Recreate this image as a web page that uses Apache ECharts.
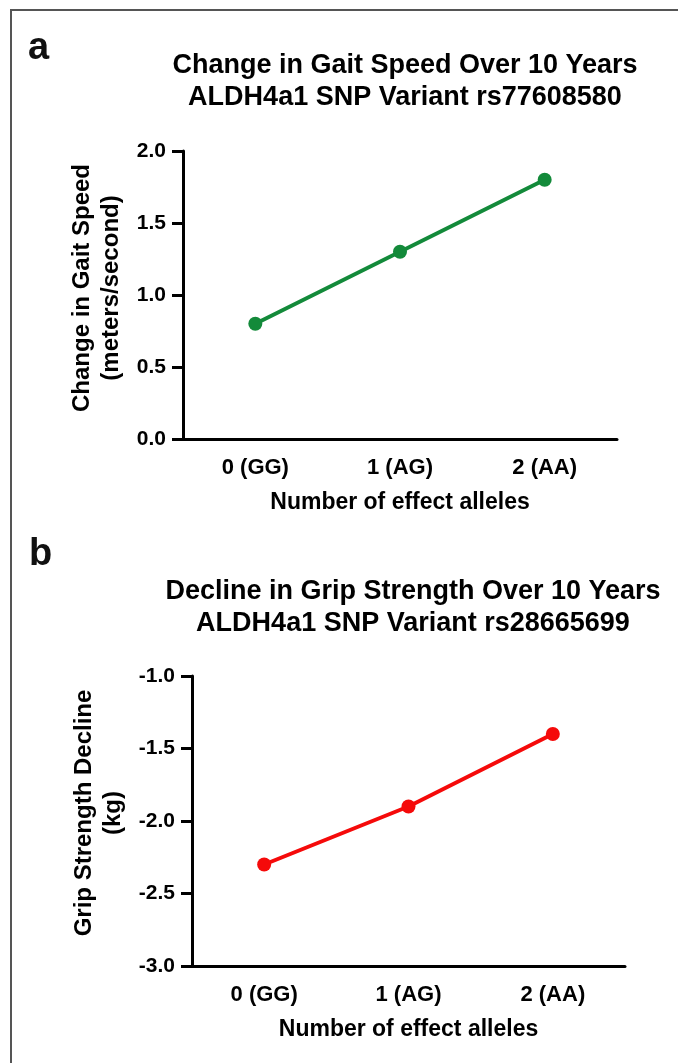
<!DOCTYPE html>
<html>
<head>
<meta charset="utf-8">
<script src="https://cdn.jsdelivr.net/npm/echarts@6/dist/echarts.min.js"></script>
<style>
  html, body { margin: 0; padding: 0; background: #fff; }
  #chart { position: absolute; left: 0; top: 0; width: 678px; height: 1063px; }
  #frame { position: absolute; left: 10px; top: 9px; width: 700px; height: 1100px;
           border-top: 2px solid #555; border-left: 2px solid #555; pointer-events: none; }
</style>
</head>
<body>
<div id="chart"></div>
<div id="frame"></div>
<script>
// ---- Data ----
const categories = ['0 (GG)', '1 (AG)', '2 (AA)'];
const gaitSpeedChange = [0.8, 1.3, 1.8];
const gripStrengthDecline = [-2.3, -1.9, -1.4];
const gaitTicks = [0.0, 0.5, 1.0, 1.5, 2.0];
const gripTicks = [-3.0, -2.5, -2.0, -1.5, -1.0];

const titleA = 'Change in Gait Speed Over 10 Years\nALDH4a1 SNP Variant rs77608580';
const titleB = 'Decline in Grip Strength Over 10 Years\nALDH4a1 SNP Variant rs28665699';
const yNameA = 'Change in Gait Speed\n(meters/second)';
const yNameB = 'Grip Strength Decline\n(kg)';
const xName = 'Number of effect alleles';

const FONT = '"Liberation Sans", Arial, sans-serif';
const GREEN = '#138a3a';
const RED = '#f50a0a';

const chart = echarts.init(document.getElementById('chart'), null, { renderer: 'canvas' });

function xAxis(gridIndex) {
  return {
    type: 'category', gridIndex, data: categories, boundaryGap: true,
    axisLine: { lineStyle: { color: '#000', width: 3 } },
    axisTick: { alignWithLabel: true, length: 10, lineStyle: { color: '#000', width: 3 } },
    axisLabel: { color: '#000', fontFamily: FONT, fontWeight: 'bold', fontSize: 22, margin: 18 },
    name: xName, nameLocation: 'middle', nameGap: 52,
    nameTextStyle: { color: '#000', fontFamily: FONT, fontWeight: 'bold', fontSize: 23 },
    splitLine: { show: false }
  };
}
function yAxis(gridIndex, ticks, name, gap, shift) {
  return {
    type: 'value', gridIndex,
    min: ticks[0], max: ticks[ticks.length - 1], interval: ticks[1] - ticks[0],
    axisLine: { show: true, lineStyle: { color: '#000', width: 3 } },
    axisTick: { show: true, length: 11, lineStyle: { color: '#000', width: 3 } },
    axisLabel: { color: '#000', fontFamily: FONT, fontWeight: 'bold', fontSize: 21, margin: 17,
                 formatter: v => v.toFixed(1) },
    splitLine: { show: false },
    name, nameLocation: 'middle', nameGap: gap, nameRotate: 90,
    nameTextStyle: { color: '#000', fontFamily: FONT, fontWeight: 'bold', fontSize: 24, lineHeight: 29,
                     padding: [0, 0, 0, shift] }
  };
}

chart.setOption({
  animation: false,
  backgroundColor: '#fff',
  title: [
    { text: 'a', left: 23, top: 25, textStyle: { fontFamily: FONT, fontWeight: 'bold', fontSize: 38, color: '#111' } },
    { text: 'b', left: 24, top: 531, textStyle: { fontFamily: FONT, fontWeight: 'bold', fontSize: 38, color: '#111' } },
    { text: titleA, left: 400, top: 45, textAlign: 'center',
      textStyle: { fontFamily: FONT, fontWeight: 'bold', fontSize: 27, lineHeight: 32, color: '#000' } },
    { text: titleB, left: 408, top: 571, textAlign: 'center',
      textStyle: { fontFamily: FONT, fontWeight: 'bold', fontSize: 27, lineHeight: 32, color: '#000' } }
  ],
  grid: [
    { left: 183, top: 151, width: 434, height: 288 },
    { left: 192, top: 676, width: 433, height: 290 }
  ],
  xAxis: [xAxis(0), xAxis(1)],
  yAxis: [yAxis(0, gaitTicks, yNameA, 55, 14), yAxis(1, gripTicks, yNameB, 64, 16)],
  series: [
    { type: 'line', xAxisIndex: 0, yAxisIndex: 0, data: gaitSpeedChange,
      symbol: 'circle', symbolSize: 14, lineStyle: { color: GREEN, width: 4 },
      itemStyle: { color: GREEN } },
    { type: 'line', xAxisIndex: 1, yAxisIndex: 1, data: gripStrengthDecline,
      symbol: 'circle', symbolSize: 14, lineStyle: { color: RED, width: 4 },
      itemStyle: { color: RED } }
  ]
});
</script>
</body>
</html>
